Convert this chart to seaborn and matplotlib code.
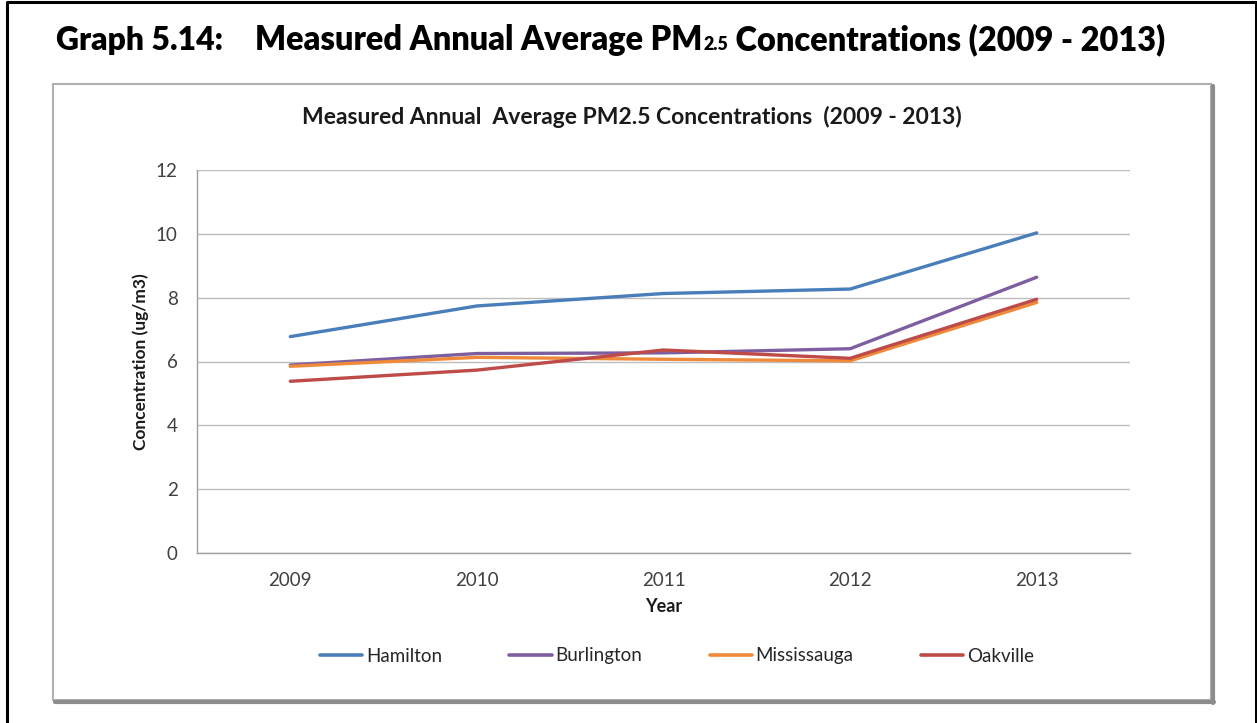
import matplotlib
matplotlib.use("Agg")
import matplotlib.pyplot as plt
from matplotlib.lines import Line2D
from matplotlib.patches import Rectangle
import seaborn as sns
import pandas as pd

# ---- data ----
years = ["2009", "2010", "2011", "2012", "2013"]
hamilton = [6.78, 7.74, 8.13, 8.27, 10.03]
burlington = [5.89, 6.25, 6.27, 6.40, 8.64]
mississauga = [5.85, 6.13, 6.07, 6.02, 7.85]
oakville = [5.38, 5.73, 6.36, 6.10, 7.95]
series_names = ["Hamilton", "Burlington", "Mississauga", "Oakville"]
colors = ["#4A7EBB", "#7D5FA0", "#EE8A3A", "#BE4B48"]
y_ticks = [0, 2, 4, 6, 8, 10, 12]

df = pd.DataFrame({
    "Year": years * 4,
    "Value": hamilton + burlington + mississauga + oakville,
    "City": sum([[n] * len(years) for n in series_names], []),
})

sns.set_theme(style="white")
plt.rcParams["font.family"] = ["Lato", "DejaVu Sans"]

W, H = 1257, 723
fig = plt.figure(figsize=(W / 100, H / 100), dpi=100)

def fx(px):
    return px / W

def fy(py):
    return 1 - py / H

ax = fig.add_axes([fx(197), fy(553), fx(1130) - fx(197), fy(170) - fy(553)])
sns.lineplot(data=df, x="Year", y="Value", hue="City", palette=colors,
             hue_order=series_names, linewidth=2.4, ax=ax, legend=False,
             sort=False)

ax.set_xlim(-0.5, len(years) - 0.5)
ax.set_ylim(0, 12)
ax.set_yticks(y_ticks)
ax.set_yticklabels([str(v) for v in y_ticks])
ax.set_xticks(range(len(years)))
ax.set_xticklabels(years)
ax.set_xticks([i - 0.5 for i in range(len(years) + 1)], minor=True)
ax.tick_params(axis="x", which="major", length=0, pad=14, labelsize=13.5, labelcolor="#404040")
ax.tick_params(axis="x", which="minor", length=6, width=1, color="#a0a0a0", direction="out")
ax.tick_params(axis="y", which="major", length=6, width=1, color="#a0a0a0", direction="out",
               pad=8, labelsize=13.5, labelcolor="#404040")
ax.grid(axis="y", color="#bdbdbd", linewidth=1)
ax.set_axisbelow(True)
for s in ["top", "right"]:
    ax.spines[s].set_visible(False)
for s in ["left", "bottom"]:
    ax.spines[s].set_color("#a0a0a0")
    ax.spines[s].set_linewidth(1)

ax.set_xlabel("Year", fontsize=13, fontweight="bold", color="#1a1a1a", labelpad=6)
ax.set_ylabel("Concentration (ug/m3)", fontsize=12.5, fontweight="bold", color="#1a1a1a", labelpad=5)

# legend
handles = [Line2D([0], [0], color=c, lw=2.6) for c in colors]
fig.legend(handles, series_names, loc="center", bbox_to_anchor=(fx(677), fy(656)),
           ncol=4, frameon=False, fontsize=13.5, handlelength=2.25, handletextpad=0.2,
           columnspacing=3.6)

# chart title, fitted to width
renderer = fig.canvas.get_renderer()
tt = fig.text(fx(632), fy(117), "Measured Annual  Average PM2.5 Concentrations  (2009 - 2013)",
              ha="center", va="center", fontsize=14, fontweight="bold", color="#1a1a1a")
tw = tt.get_window_extent(renderer).width
tt.set_fontsize(14 * (965 - 300) / tw)

# inner chart box with shadow
fig.add_artist(Rectangle((fx(53), fy(700)), fx(1211) - fx(53), fy(84) - fy(700),
                         transform=fig.transFigure, fill=False, edgecolor="#b0b0b0", lw=1.5))
fig.add_artist(Line2D([fx(1213), fx(1213)], [fy(86), fy(703)], transform=fig.transFigure,
                      color="#8c8c8c", lw=3))
fig.add_artist(Line2D([fx(55), fx(1214)], [fy(702), fy(702)], transform=fig.transFigure,
                      color="#8c8c8c", lw=3))

# outer frame
fig.add_artist(Line2D([fx(6.5), fx(6.5), fx(1255.5), fx(1255.5)],
                      [fy(723), fy(2), fy(2), fy(723)], transform=fig.transFigure,
                      color="black", lw=2.2))

# header with subscript, fitted to width
base = 24
hdr_kw = dict(fontweight="heavy", color="black", va="baseline")
t0 = fig.text(fx(56), fy(50), "Graph 5.14:", fontsize=base, **hdr_kw)
w0 = t0.get_window_extent(renderer).width
t0.set_fontsize(base * (223 - 56) / w0)

def draw_header(size):
    x = 255
    ta = fig.text(fx(x), fy(50), "Measured Annual Average PM", fontsize=size, **hdr_kw)
    x += ta.get_window_extent(renderer).width
    tb = fig.text(fx(x + 1), fy(50), "2.5", fontsize=size * 0.55, **hdr_kw)
    x += tb.get_window_extent(renderer).width + 1
    tc = fig.text(fx(x), fy(50), " Concentrations (2009 - 2013)", fontsize=size, **hdr_kw)
    x += tc.get_window_extent(renderer).width
    return [ta, tb, tc], x

parts, xend = draw_header(base)
sc = (1168 - 255) / (xend - 255)
for p in parts:
    p.remove()
parts, xend = draw_header(base * sc)

fig.savefig("out.png", dpi=100)
